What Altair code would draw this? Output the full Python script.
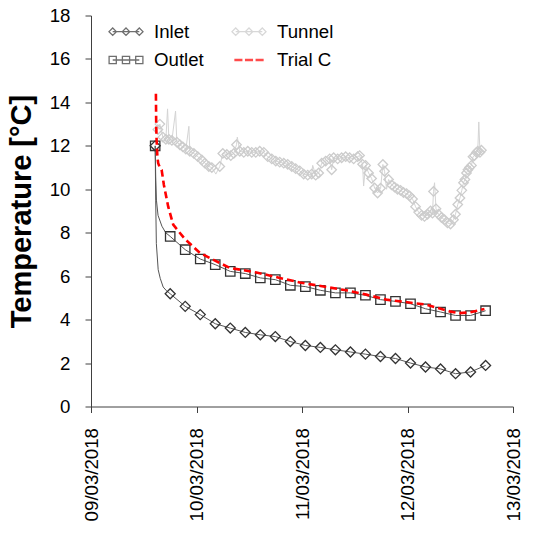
import altair as alt
import pandas as pd

FONT = "Liberation Sans"

# ---------------- data ----------------
marker_times = [
    "2018-03-09T14:36", "2018-03-09T18:01", "2018-03-09T21:26", "2018-03-10T00:51",
    "2018-03-10T04:16", "2018-03-10T07:41", "2018-03-10T11:06", "2018-03-10T14:31",
    "2018-03-10T17:56", "2018-03-10T21:21", "2018-03-11T00:46", "2018-03-11T04:11",
    "2018-03-11T07:36", "2018-03-11T11:01", "2018-03-11T14:26", "2018-03-11T17:51",
    "2018-03-11T21:16", "2018-03-12T00:41", "2018-03-12T04:06", "2018-03-12T07:31",
    "2018-03-12T10:56", "2018-03-12T14:21", "2018-03-12T17:46",
]
inlet_marker_temps = [12.0, 5.19, 4.61, 4.23, 3.81, 3.61, 3.41, 3.30, 3.22, 2.99, 2.81, 2.72,
                      2.61, 2.51, 2.41, 2.30, 2.21, 2.00, 1.82, 1.73, 1.51, 1.59, 1.89]
outlet_marker_temps = [12.0, 7.83, 7.22, 6.79, 6.53, 6.22, 6.12, 5.92, 5.84, 5.58, 5.52, 5.35,
                       5.23, 5.23, 5.12, 4.92, 4.84, 4.73, 4.50, 4.35, 4.19, 4.19, 4.41]

# steep start of the inlet / outlet records (between the first two markers)
inlet_start_times = ["2018-03-09T14:43", "2018-03-09T14:52", "2018-03-09T15:17",
                     "2018-03-09T15:45", "2018-03-09T16:25", "2018-03-09T17:10"]
inlet_start_temps = [9.5, 7.5, 6.3, 5.9, 5.5, 5.33]
outlet_start_times = ["2018-03-09T14:43", "2018-03-09T14:53", "2018-03-09T15:15",
                      "2018-03-09T16:08", "2018-03-09T17:00"]
outlet_start_temps = [10.6, 9.5, 8.8, 8.3, 8.0]

trial_times = [
    "2018-03-09T14:46", "2018-03-09T14:50", "2018-03-09T14:55", "2018-03-09T15:06",
    "2018-03-09T15:17", "2018-03-09T15:40", "2018-03-09T16:04", "2018-03-09T16:35",
    "2018-03-09T17:34", "2018-03-09T18:42", "2018-03-09T21:21", "2018-03-10T00:46",
    "2018-03-10T04:33", "2018-03-10T07:35", "2018-03-10T13:39", "2018-03-10T18:56",
    "2018-03-10T23:29", "2018-03-11T05:33", "2018-03-11T10:05", "2018-03-11T14:38",
    "2018-03-11T19:10", "2018-03-12T04:16", "2018-03-12T09:33", "2018-03-12T11:49",
    "2018-03-12T14:06", "2018-03-12T17:30",
]
trial_temps = [14.4, 13.0, 12.3, 11.5, 11.2, 11.0, 10.9, 10.2, 9.2, 8.37, 7.71, 7.07,
               6.68, 6.38, 6.17, 5.92, 5.71, 5.50, 5.35, 5.15, 4.92, 4.69, 4.38, 4.30,
               4.33, 4.49]

tunnel_times = [
    "2018-03-09T15:13", "2018-03-09T15:40", "2018-03-09T16:21", "2018-03-09T17:02",
    "2018-03-09T17:25", "2018-03-09T17:43", "2018-03-09T18:24", "2018-03-09T19:14",
    "2018-03-09T19:32", "2018-03-09T20:13", "2018-03-09T20:54", "2018-03-09T21:35",
    "2018-03-09T22:16", "2018-03-09T22:29", "2018-03-09T23:24", "2018-03-10T00:18",
    "2018-03-10T01:13", "2018-03-10T01:54", "2018-03-10T02:48", "2018-03-10T03:29",
    "2018-03-10T04:24", "2018-03-10T05:18", "2018-03-10T05:59", "2018-03-10T06:54",
    "2018-03-10T07:48", "2018-03-10T08:29", "2018-03-10T09:06", "2018-03-10T09:17",
    "2018-03-10T09:51", "2018-03-10T10:45", "2018-03-10T11:40", "2018-03-10T12:34",
    "2018-03-10T13:29", "2018-03-10T14:23", "2018-03-10T15:18", "2018-03-10T16:13",
    "2018-03-10T17:07", "2018-03-10T18:02", "2018-03-10T18:56", "2018-03-10T19:51",
    "2018-03-10T20:45", "2018-03-10T21:40", "2018-03-10T22:34", "2018-03-10T23:29",
    "2018-03-11T00:23", "2018-03-11T01:18", "2018-03-11T02:12", "2018-03-11T02:26",
    "2018-03-11T03:07", "2018-03-11T03:48", "2018-03-11T04:29", "2018-03-11T05:23",
    "2018-03-11T06:18", "2018-03-11T06:45", "2018-03-11T07:12", "2018-03-11T08:07",
    "2018-03-11T09:01", "2018-03-11T09:56", "2018-03-11T10:50", "2018-03-11T11:45",
    "2018-03-11T12:39", "2018-03-11T13:06", "2018-03-11T13:47", "2018-03-11T14:01",
    "2018-03-11T14:28", "2018-03-11T15:09", "2018-03-11T15:50", "2018-03-11T16:31",
    "2018-03-11T17:12", "2018-03-11T17:53", "2018-03-11T18:24", "2018-03-11T18:47",
    "2018-03-11T19:14", "2018-03-11T19:42", "2018-03-11T20:23", "2018-03-11T21:04",
    "2018-03-11T21:44", "2018-03-11T22:25", "2018-03-11T23:06", "2018-03-11T23:47",
    "2018-03-12T00:28", "2018-03-12T01:09", "2018-03-12T01:50", "2018-03-12T02:31",
    "2018-03-12T03:12", "2018-03-12T03:52", "2018-03-12T04:33", "2018-03-12T05:14",
    "2018-03-12T05:41", "2018-03-12T05:55", "2018-03-12T06:09", "2018-03-12T06:29",
    "2018-03-12T07:03", "2018-03-12T07:44", "2018-03-12T08:25", "2018-03-12T09:06",
    "2018-03-12T09:47", "2018-03-12T10:28", "2018-03-12T10:55", "2018-03-12T11:26",
    "2018-03-12T11:56", "2018-03-12T12:21", "2018-03-12T12:44", "2018-03-12T13:04",
    "2018-03-12T13:25", "2018-03-12T13:45", "2018-03-12T14:06", "2018-03-12T14:33",
    "2018-03-12T14:54", "2018-03-12T15:14", "2018-03-12T15:41", "2018-03-12T15:59",
    "2018-03-12T16:13", "2018-03-12T16:29", "2018-03-12T16:49",
]
tunnel_temps = [
    12.75, 13.0, 12.4, 12.3, 13.7, 12.3, 12.25, 13.6,
    12.17, 12.05, 11.95, 11.85, 12.9, 11.75, 11.65, 11.5,
    11.35, 11.2, 11.05, 11.0, 10.7, 11.05, 11.65, 11.6,
    11.55, 11.65, 12.05, 12.4, 11.75, 11.7, 11.75, 11.7,
    11.7, 11.75, 11.7, 11.5, 11.4, 11.3, 11.25, 11.2,
    11.15, 11.05, 10.95, 10.85, 10.7, 10.65, 10.7, 11.1,
    10.65, 10.75, 11.2, 11.3, 11.4, 10.9, 11.45, 11.4,
    11.45, 11.5, 11.45, 11.4, 11.5, 11.55, 11.15, 10.15,
    11.1, 10.75, 10.5, 10.06, 9.83, 10.05, 11.14, 10.83,
    10.0, 10.45, 10.2, 10.1, 10.0, 9.95, 9.85, 9.8,
    9.7, 9.55, 9.2, 8.95, 8.8, 8.75, 8.85, 9.0,
    8.9, 9.9, 10.3, 9.1, 8.85, 8.7, 8.6, 8.45,
    8.4, 8.6, 8.85, 9.3, 9.6, 9.95, 10.3, 10.45,
    10.75, 10.9, 11.0, 11.1, 11.5, 11.55, 11.7, 11.75,
    13.1, 11.7, 11.8,
]
# readings drawn with a marker (1) or only as a line spike (0)
tunnel_marked = [
    1, 1, 1, 1, 0, 1, 1, 0,
    1, 1, 1, 1, 0, 1, 1, 1,
    1, 1, 1, 1, 0, 1, 1, 1,
    1, 1, 1, 0, 1, 1, 1, 1,
    1, 1, 1, 1, 1, 1, 1, 1,
    1, 1, 1, 1, 1, 1, 1, 0,
    1, 1, 1, 1, 1, 1, 1, 1,
    1, 1, 1, 1, 1, 1, 1, 0,
    1, 1, 1, 1, 1, 1, 1, 1,
    0, 1, 1, 1, 1, 1, 1, 1,
    1, 1, 1, 1, 1, 1, 1, 1,
    1, 1, 0, 1, 1, 1, 1, 1,
    1, 1, 1, 1, 1, 1, 1, 1,
    1, 1, 1, 1, 1, 1, 1, 1,
    0, 1, 1,
]

y_ticks = [0, 2, 4, 6, 8, 10, 12, 14, 16, 18]
tick_days = [9, 10, 11, 12, 13]

# legend entries, filled column by column (Inlet/Outlet | Tunnel/Trial C)
legend_order = ["Inlet", "Outlet", "Tunnel", "Trial C"]
legend_colors = ["#333333", "#333333", "#c8c8c8", "#ff0000"]


# ---------------- legend symbols (SVG paths, unit = 10 px) ----------------
def diamonds():
    p = "M-1.33,0H1.33"
    for c in (-1.33, 0.0, 1.33):
        p += f"M{c-0.37:.2f},0L{c:.2f},-0.37L{c+0.37:.2f},0L{c:.2f},0.37Z"
    return p


def squares():
    p = "M-1.33,0H1.33"
    for c in (-1.33, 0.0, 1.33):
        p += f"M{c-0.36:.2f},-0.36H{c+0.36:.2f}V0.36H{c-0.36:.2f}Z"
    return p


def dashes():
    p = ""
    for a, b in ((-1.4, -0.72), (-0.34, 0.34), (0.72, 1.4)):
        p += f"M{a},-0.07H{b}V0.07H{a}Z"
    return p


legend_shapes = [diamonds(), squares(), diamonds(), dashes()]

# ---------------- tables ----------------
inlet_line = pd.DataFrame({
    "time": inlet_start_times + marker_times,
    "temp": inlet_start_temps + inlet_marker_temps,
}).sort_values("time")
outlet_line = pd.DataFrame({
    "time": outlet_start_times + marker_times,
    "temp": outlet_start_temps + outlet_marker_temps,
}).sort_values("time")
inlet_pts = pd.DataFrame({"time": marker_times, "temp": inlet_marker_temps})
outlet_pts = pd.DataFrame({"time": marker_times, "temp": outlet_marker_temps})
tunnel = pd.DataFrame({"time": tunnel_times, "temp": tunnel_temps, "marked": tunnel_marked})
trial = pd.DataFrame({"time": trial_times, "temp": trial_temps})
legend_df = pd.DataFrame({"series": legend_order,
                          "time": [marker_times[0]] * 4,
                          "temp": [inlet_marker_temps[0]] * 4})


def dt(d):
    return alt.DateTime(year=2018, month=3, date=d)


x_enc = alt.X(
    "time:T",
    scale=alt.Scale(domain=[dt(9), dt(13)]),
    axis=alt.Axis(values=[dt(d) for d in tick_days], format="%d/%m/%Y", labelAngle=270,
                  title=None, grid=False, tickSize=6, labelPadding=15,
                  labelFontSize=18.67),
)
y_enc = alt.Y(
    "temp:Q",
    scale=alt.Scale(domain=[0, 18], nice=False),
    axis=alt.Axis(values=y_ticks, title="Temperature [°C]", grid=False, tickSize=6,
                  labelPadding=15, labelFontSize=18.67, titleFontSize=29,
                  titleFontWeight="bold", titlePadding=13),
)

tunnel_line_l = alt.Chart(tunnel).mark_line(color="#d4d4d4", strokeWidth=1).encode(x=x_enc, y=y_enc)
tunnel_pts_l = alt.Chart(tunnel).transform_filter("datum.marked == 1").mark_point(
    shape="diamond", filled=False, color="#cccccc", size=90, strokeWidth=1.3, opacity=1
).encode(x=x_enc, y=y_enc)

inlet_line_l = alt.Chart(inlet_line).mark_line(color="#555555", strokeWidth=1).encode(x=x_enc, y=y_enc)
inlet_pts_l = alt.Chart(inlet_pts).mark_point(
    shape="diamond", filled=False, color="#333333", size=100, strokeWidth=1.3, opacity=1
).encode(x=x_enc, y=y_enc)

outlet_line_l = alt.Chart(outlet_line).mark_line(color="#555555", strokeWidth=1).encode(x=x_enc, y=y_enc)
outlet_pts_l = alt.Chart(outlet_pts).mark_point(
    shape="square", filled=False, color="#333333", size=88, strokeWidth=1.3, opacity=1
).encode(x=x_enc, y=y_enc)

trial_l = alt.Chart(trial).mark_line(color="#ff0000", strokeWidth=2.6, strokeDash=[7, 4]).encode(
    x=x_enc, y=y_enc)

legend_props = dict(title=None, orient="none", legendX=24, legendY=5, columns=2,
                    symbolSize=400, symbolStrokeWidth=1.3, labelFontSize=18.67,
                    labelFont=FONT, labelColor="#000000", labelOffset=17,
                    columnPadding=25, rowPadding=7.5, padding=0)

legend_l = alt.Chart(legend_df).transform_filter("false").mark_point(filled=False).encode(
    x=x_enc, y=y_enc,
    color=alt.Color("series:N", scale=alt.Scale(domain=legend_order, range=legend_colors),
                    legend=alt.Legend(**legend_props)),
    shape=alt.Shape("series:N", scale=alt.Scale(domain=legend_order, range=legend_shapes),
                    legend=alt.Legend(**legend_props)),
)

chart = alt.layer(
    inlet_line_l, inlet_pts_l, tunnel_line_l, tunnel_pts_l,
    outlet_line_l, outlet_pts_l, trial_l, legend_l,
).properties(
    width=422, height=391,
    autosize=alt.AutoSizeParams(type="none"),
    padding={"left": 91, "top": 15.5, "right": 23, "bottom": 129.5},
    background="white",
).configure_view(stroke=None).configure_axis(
    domainColor="#404040", tickColor="#404040", labelColor="#000000", titleColor="#000000",
    labelFont=FONT, titleFont=FONT, domainWidth=1, tickWidth=1,
)

chart.save("out.html", embed_options={"renderer": "svg", "actions": False})
